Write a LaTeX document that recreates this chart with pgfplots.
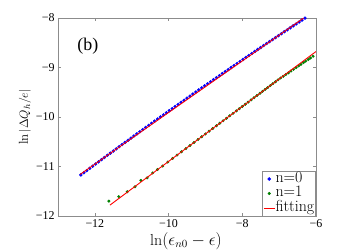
\documentclass[border=0pt]{standalone}
\usepackage{pgfplots}
\pgfplotsset{compat=1.18}
\usepackage{fontspec}
\newfontfamily\tnr{Liberation Serif}
\definecolor{mgreen}{rgb}{0,0.5,0}
\definecolor{frame}{gray}{0.55}
\pgfplotsset{
  dotleg/.style={legend image code/.code={\draw[mark repeat=2,mark phase=2,##1] plot coordinates {(0cm,0cm)(0.19cm,0cm)(0.38cm,0cm)};}},
  lineleg/.style={legend image code/.code={\draw[##1] (0cm,0cm) -- (0.38cm,0cm);}},
}
\begin{document}
\begin{tikzpicture}
\path[use as bounding box] (-58bp,-35bp) rectangle (291bp,216bp);
\begin{axis}[
  at={(0,0)}, anchor=south west,
  scale only axis, width=258bp, height=198bp,
  clip mode=individual,
  xmin=-13, xmax=-6, ymin=-12, ymax=-8,
  xtick={-12,-10,-8,-6}, xticklabels={−12,−10,−8,−6},
  ytick={-12,-11,-10,-9,-8}, yticklabels={−12,−11,−10,−9,−8},
  tick align=inside, major tick length=3bp,
  axis line style={frame, line width=0.5bp},
  every tick/.style={frame, line width=0.5bp},
  ticklabel style={font=\tnr\fontsize{12}{12}\selectfont, text=black},
  xlabel={$\ln(\epsilon_{n0}-\epsilon)$},
  ylabel={$\ln|\Delta Q_h/e|$},
  xlabel style={font=\fontsize{16}{16}\selectfont, at={(axis description cs:0.496,-0.125)}, anchor=center},
  ylabel style={font=\fontsize{13}{13}\selectfont, at={(axis description cs:-0.128,0.5)}, anchor=center},
  legend style={at={(1,0)}, anchor=south east, draw=frame, line width=0.5bp,
    font=\fontsize{16}{16}\selectfont, inner sep=1bp, row sep=1bp,
    nodes={inner sep=0.5bp, text height=9.5bp, text depth=3bp}},
  legend cell align=left,
]
\addplot[only marks, mark=*, mark size=1.5bp, color=blue, mark options={draw=blue, fill=blue}, dotleg]
coordinates {
(-12.38,-11.170)(-12.30,-11.126)(-12.22,-11.082)(-12.14,-11.037)(-12.06,-10.993)(-11.98,-10.949)
(-11.90,-10.905)(-11.82,-10.862)(-11.74,-10.818)(-11.66,-10.774)(-11.58,-10.730)(-11.50,-10.687)
(-11.42,-10.643)(-11.34,-10.600)(-11.26,-10.556)(-11.18,-10.513)(-11.10,-10.470)(-11.02,-10.427)
(-10.94,-10.384)(-10.86,-10.341)(-10.78,-10.298)(-10.70,-10.255)(-10.62,-10.212)(-10.54,-10.169)
(-10.46,-10.127)(-10.38,-10.084)(-10.30,-10.041)(-10.22,-9.999)(-10.14,-9.957)(-10.06,-9.914)
(-9.98,-9.872)(-9.90,-9.830)(-9.82,-9.788)(-9.74,-9.746)(-9.66,-9.704)(-9.58,-9.662)
(-9.50,-9.620)(-9.42,-9.578)(-9.34,-9.536)(-9.26,-9.495)(-9.18,-9.453)(-9.10,-9.412)
(-9.02,-9.370)(-8.94,-9.329)(-8.86,-9.287)(-8.78,-9.246)(-8.70,-9.205)(-8.62,-9.164)
(-8.54,-9.123)(-8.46,-9.082)(-8.38,-9.041)(-8.30,-9.000)(-8.22,-8.960)(-8.14,-8.919)
(-8.06,-8.878)(-7.98,-8.838)(-7.90,-8.797)(-7.82,-8.757)(-7.74,-8.716)(-7.66,-8.676)
(-7.58,-8.636)(-7.50,-8.596)(-7.42,-8.556)(-7.34,-8.516)(-7.26,-8.476)(-7.18,-8.436)
(-7.10,-8.396)(-7.02,-8.357)(-6.94,-8.317)(-6.86,-8.277)(-6.78,-8.238)(-6.70,-8.198)
(-6.62,-8.159)(-6.54,-8.120)(-6.46,-8.081)(-6.38,-8.041)(-6.30,-8.002)
};
\addlegendentry{n=0}
\addplot[only marks, mark=*, mark size=1.3bp, color=mgreen, mark options={draw=mgreen, fill=mgreen}, dotleg]
coordinates {
(-11.62,-11.70)(-11.35,-11.61)(-11.12,-11.51)(-10.91,-11.41)(-10.75,-11.28)(-10.58,-11.23)
(-10.43,-11.13)(-10.30,-11.06)(-10.16,-10.99)(-10.02,-10.91)(-9.89,-10.837)(-9.77,-10.770)
(-9.65,-10.703)(-9.53,-10.637)(-9.42,-10.576)(-9.31,-10.515)(-9.20,-10.454)(-9.10,-10.398)
(-9.00,-10.343)(-8.90,-10.287)(-8.80,-10.232)(-8.70,-10.176)(-8.61,-10.126)(-8.52,-10.076)
(-8.43,-10.026)(-8.34,-9.976)(-8.25,-9.926)(-8.16,-9.876)(-8.08,-9.832)(-8.00,-9.788)
(-7.92,-9.743)(-7.84,-9.699)(-7.76,-9.654)(-7.68,-9.610)(-7.60,-9.566)(-7.52,-9.521)
(-7.45,-9.482)(-7.38,-9.443)(-7.31,-9.405)(-7.24,-9.366)(-7.17,-9.327)(-7.10,-9.288)
(-7.03,-9.249)(-6.96,-9.212)(-6.89,-9.178)(-6.82,-9.143)(-6.75,-9.108)(-6.68,-9.072)
(-6.61,-9.037)(-6.54,-9.002)(-6.47,-8.967)(-6.41,-8.937)(-6.34,-8.902)(-6.28,-8.872)
(-6.21,-8.837)(-6.15,-8.807)(-6.08,-8.772)
};
\addlegendentry{n=1}
\addplot[red, line width=0.9bp, no marks, lineleg]
coordinates {(-12.40,-11.160)(-6.26,-7.961)};
\addlegendentry{fitting}
\addplot[red, line width=0.9bp, no marks, forget plot]
coordinates {(-11.59,-11.78)(-6.00,-8.677)};
\node[font=\tnr\fontsize{18}{18}\selectfont] at (axis description cs:0.116,0.859) {(b)};
\end{axis}
\end{tikzpicture}
\end{document}
